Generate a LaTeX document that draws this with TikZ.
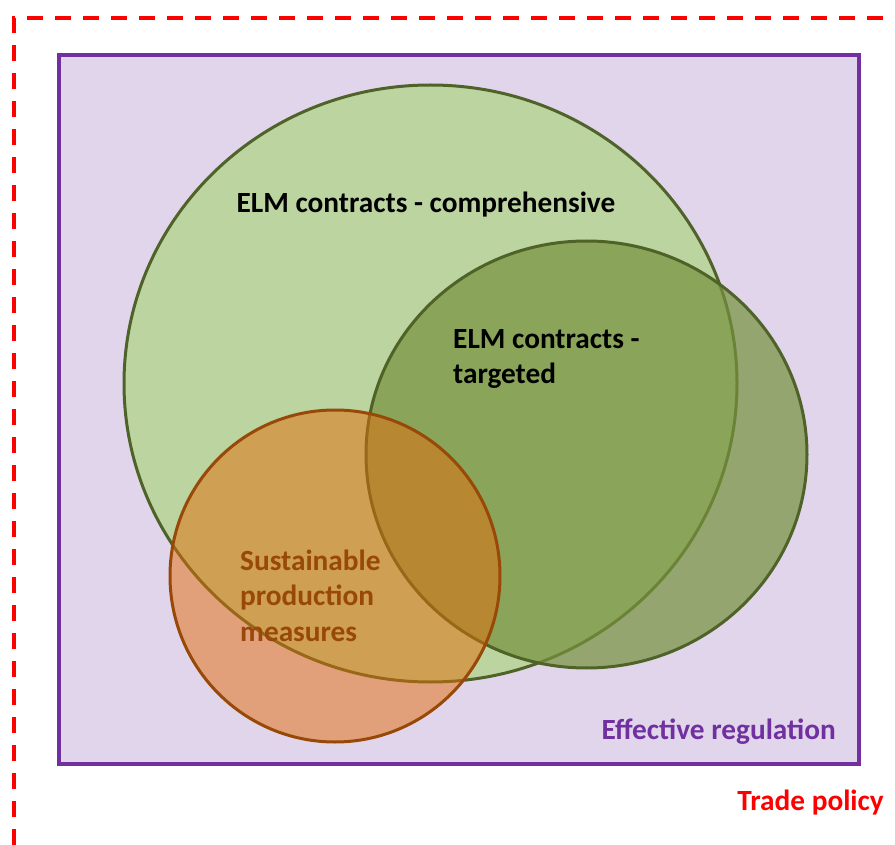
\documentclass[tikz,border=0pt]{standalone}
\usepackage{fontspec}
\setmainfont{Carlito}
\usetikzlibrary{positioning}
\definecolor{regpurple}{HTML}{7030A0}
\definecolor{regfill}{HTML}{E1D5EB}
\definecolor{compfill}{HTML}{BBD4A0}
\definecolor{elmline}{HTML}{4F6228}
\definecolor{targfill}{HTML}{76923C}
\definecolor{susline}{HTML}{984807}
\definecolor{susfill}{HTML}{E46C0A}
\tikzset{lbl/.style={inner sep=0pt, font=\fontsize{29.3}{35.5}\selectfont\bfseries, align=left}}

\begin{document}
\begin{tikzpicture}[x=1pt,y=-1pt]
			\useasboundingbox (0,0) rectangle (895,845);
			\draw[red, line width=4.5pt, dash pattern=on 16pt off 12pt] (14,845) -- (14,18) -- (895,18);
			\draw[regpurple, fill=regfill, line width=3.5pt] (59,55) rectangle (859,764);
			\draw[elmline, fill=compfill, line width=3pt] (430.5,383.5) ellipse [x radius=306.5pt, y radius=298.5pt];
			\draw[elmline, fill=targfill, fill opacity=0.7, line width=3pt] (586.5,454.5) ellipse [x radius=220.5pt, y radius=213.5pt];
			\draw[susline, fill=susfill, fill opacity=0.5, line width=3pt] (335,576) ellipse [x radius=165pt, y radius=166pt];
			\node[lbl, anchor=base] (comp) at (426,213) {ELM contracts - comprehensive};
			\node[lbl, anchor=base west] (targ) at (453,383.5) {ELM contracts -\\targeted};
			\node[lbl, anchor=base west, text=susline] (sus) at (240,641) {Sustainable\\production\\measures};
			\node[lbl, anchor=base east, text=regpurple] (reg) at (836,739) {Effective regulation};
			\node[lbl, anchor=base east, text=red] (trade) at (884,810) {Trade policy};
		\end{tikzpicture}
\end{document}
